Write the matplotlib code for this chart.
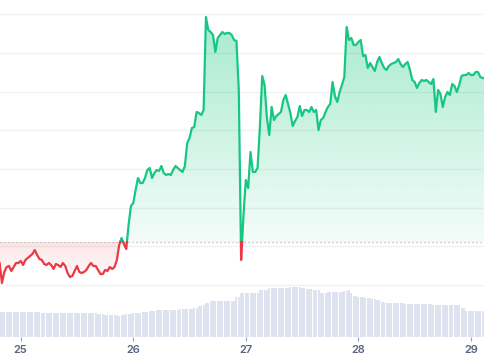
import numpy as np
import pandas as pd
import matplotlib
matplotlib.use('Agg')
import matplotlib.pyplot as plt
import matplotlib.dates as mdates
from matplotlib.patches import PathPatch
from matplotlib.path import Path

# ---------------- data ----------------
times = pd.date_range('2024-03-24 19:30', periods=208, freq='30min')

price = [74, 54, 65, 70, 71, 66, 70, 74, 74, 76,
         72, 77, 79, 81, 83, 87, 82, 78, 77, 73,
         72, 74, 72, 68, 73, 72, 70, 74, 71, 64,
         60, 61, 66, 71, 65, 64, 65, 67, 71, 74,
         71, 71, 67, 63, 63, 67, 66, 70, 68, 70,
         77, 92, 99, 93, 88, 112, 131, 134, 147, 159,
         154, 154, 159, 167, 169, 159, 164, 167, 166, 171,
         164, 162, 163, 162, 167, 171, 169, 167, 165, 171,
         194, 199, 209, 210, 225, 224, 222, 227, 320, 307,
         305, 302, 285, 299, 302, 305, 303, 304, 304, 302,
         297, 296, 247, 77, 122, 157, 149, 185, 165, 165,
         169, 210, 261, 252, 219, 202, 230, 217, 221, 223,
         225, 237, 242, 233, 224, 211, 216, 220, 231, 221,
         227, 227, 225, 230, 225, 227, 207, 217, 219, 225,
         230, 233, 255, 241, 235, 245, 252, 260, 310, 297,
         299, 292, 292, 295, 297, 281, 282, 269, 274, 270,
         266, 275, 280, 274, 269, 267, 271, 273, 274, 275,
         278, 273, 270, 273, 275, 267, 257, 255, 249, 254,
         257, 256, 257, 255, 253, 258, 225, 247, 243, 230,
         240, 245, 242, 253, 251, 245, 252, 261, 262, 262,
         264, 262, 262, 265, 265, 260, 259, 259]

volume = [25, 25, 25, 25, 25, 25, 25, 25, 25, 25,
          25, 25, 25, 25, 25, 25, 25, 25, 24, 24,
          24, 24, 24, 24, 24, 24, 24, 24, 24, 24,
          24, 24, 24, 24, 24, 24, 24, 24, 24, 24,
          24, 24, 23, 23, 23, 22, 22, 22, 22, 22,
          22, 21, 22, 22, 23, 23, 23, 24, 24, 24,
          24, 25, 25, 25, 26, 26, 26, 27, 27, 27,
          27, 27.5, 27.5, 27.5, 27.5, 27.5, 27.5, 28, 28, 28,
          28, 28.5, 28.5, 29, 29, 31, 31, 32, 34, 34,
          36.5, 36.5, 36.5, 36.5, 36.5, 36.5, 36.5, 36.5, 36.5, 36.5,
          36.5, 40, 40, 44, 44, 44, 44, 44, 44, 44,
          44, 47, 47, 47, 47, 49.5, 49.5, 49.5, 49.5, 49.5,
          49.5, 49.5, 49.5, 49.5, 50, 50, 50, 50, 50, 49,
          49, 48, 48, 48, 47, 47, 47, 44, 44, 44,
          45, 45, 45, 45, 45, 45, 45, 46, 46, 47,
          44, 41, 41, 40, 40, 40, 39, 39, 39, 38,
          38, 37, 37, 35, 35, 34, 34, 34, 34, 34,
          34, 34, 34, 33, 33, 33, 33, 33, 33, 33,
          33, 33, 33, 33, 33, 32.5, 32.5, 32.5, 32.5, 32,
          32, 32, 32, 32, 32, 32, 32, 29, 29, 26,
          26, 26, 26, 26, 26, 26, 26, 26]

base_price = 95
grid_levels = [52, 90.7, 129.4, 168.1, 206.8, 245.5, 284.2, 322.9]

GREEN = '#16c784'
RED = '#ea3943'

# ---------------- figure ----------------
fig = plt.figure(figsize=(4.85, 3.60), dpi=100)
ax = fig.add_axes([0, 23/360, 1, 337/360])
axv = ax.twinx()
ax.set_zorder(2)
ax.patch.set_visible(False)

x = mdates.date2num(times.to_pydatetime())
p = np.array(price, dtype=float)
xlim = (x[0] + 5/1440, x[-1])

# volume bars
axv.bar(x, volume, width=0.85 * 0.5 / 24, color='#dfe3f0', linewidth=0,
        align='center')
axv.set_ylim(0, 337)
axv.set_yticks([])
for s in axv.spines.values():
    s.set_visible(False)

# insert crossings with the baseline for colour split
xs, ps = [x[0]], [p[0]]
for i in range(1, len(p)):
    a, b = p[i - 1] - base_price, p[i] - base_price
    if a * b < 0:
        t = a / (a - b)
        xs.append(x[i - 1] + t * (x[i] - x[i - 1]))
        ps.append(base_price)
    xs.append(x[i])
    ps.append(p[i])
xs = np.array(xs)
ps = np.array(ps)

# gradient fills
def grad_fill(ylo, yhi, color, a_top, a_bot, v0, v1):
    poly = ax.fill_between(xs, ylo, yhi, color='none', linewidth=0)
    paths = poly.get_paths()
    path = Path.make_compound_path(*paths)
    patch = PathPatch(path, transform=ax.transData, facecolor='none',
                      edgecolor='none')
    ax.add_patch(patch)
    rgb = matplotlib.colors.to_rgb(color)
    n = 256
    img = np.zeros((n, 1, 4))
    img[:, 0, :3] = rgb
    img[:, 0, 3] = np.linspace(a_bot, a_top, n)
    im = ax.imshow(img, extent=[xlim[0], xlim[1], v0, v1], aspect='auto',
                   origin='lower', interpolation='bilinear', zorder=1)
    im.set_clip_path(patch)

grad_fill(np.full_like(ps, base_price), np.maximum(ps, base_price), GREEN,
          0.38, 0.05, base_price, 322)
grad_fill(np.minimum(ps, base_price), np.full_like(ps, base_price), RED,
          0.13, 0.0, 50, base_price)

# lines
pg = np.ma.masked_where(ps < base_price, ps)
pr = np.ma.masked_where(ps > base_price, ps)
ax.plot(xs, pg, color=GREEN, lw=1.6, solid_joinstyle='round', zorder=4)
ax.plot(xs, pr, color=RED, lw=1.6, solid_joinstyle='round', zorder=4)

# baseline
ax.axhline(base_price, color='#b4b4b4', lw=0.9, ls=(0, (1, 2.2)), zorder=3)

# grid
for g in grid_levels:
    ax.axhline(g, color='#f1f1f1', lw=1.0, zorder=0)

ax.set_xlim(*xlim)
ax.set_ylim(0, 337)
axv.set_xlim(*xlim)
ax.set_yticks([])
for s in ax.spines.values():
    s.set_visible(False)

ax.xaxis.set_major_locator(mdates.DayLocator())
ax.xaxis.set_major_formatter(mdates.DateFormatter('%d'))
ax.tick_params(axis='x', length=3, width=0.8, color='#9aa3b5', pad=2.5,
               labelsize=8, labelcolor='#58667e')
for lab in ax.get_xticklabels():
    lab.set_fontfamily('Inter')
    lab.set_fontweight('semibold')

fig.savefig('out.png', dpi=100)
